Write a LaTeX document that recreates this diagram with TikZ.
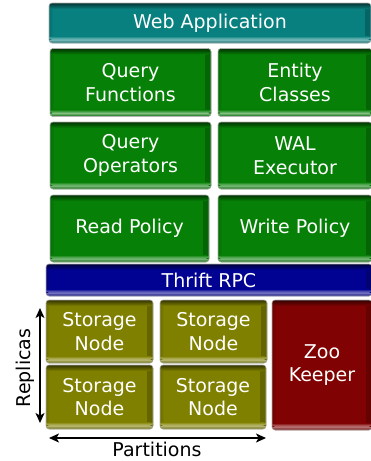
\documentclass[tikz,border=0pt]{standalone}
\usepackage{fontspec}
\setmainfont{DejaVu Sans}
\usetikzlibrary{arrows.meta}

\definecolor{cteal}{RGB}{8,128,128}
\definecolor{cgreen}{RGB}{6,128,6}
\definecolor{cblue}{RGB}{2,2,146}
\definecolor{colive}{RGB}{128,128,0}
\definecolor{cred}{RGB}{128,2,2}

\tikzset{
  block/.style={
    draw=black!30, line width=0.6pt, rounded corners=3pt,
    fill=#1, inner sep=0pt, outer sep=0pt, align=center,
    text=white, font=\fontsize{19}{23.5}\selectfont,
    path picture={
      % soft dark right edge
      \shade[left color=#1, right color=#1!78!black]
        ([xshift=-6pt]path picture bounding box.north east)
        rectangle (path picture bounding box.south east);
      % soft dark left edge
      \shade[left color=#1!85!black, right color=#1]
        (path picture bounding box.north west)
        rectangle ([xshift=4pt]path picture bounding box.south west);
      % dark top edge
      \shade[top color=#1!40!black, bottom color=#1]
        (path picture bounding box.north west)
        rectangle ([yshift=-6pt]path picture bounding box.north east);
      % light band near the bottom
      \shade[top color=#1, bottom color=#1!50!white]
        ([yshift=7pt]path picture bounding box.south west)
        rectangle ([yshift=3.5pt]path picture bounding box.south east);
      \shade[top color=#1!50!white, bottom color=#1!80!black]
        ([yshift=3.5pt]path picture bounding box.south west)
        rectangle (path picture bounding box.south east);
    }},
  axisarrow/.style={{Stealth[length=10pt,width=9pt,inset=2.5pt]}-{Stealth[length=10pt,width=9pt,inset=2.5pt]}, line width=1.2pt},
  axislabel/.style={font=\fontsize{19}{23.5}\selectfont, text=black, inner sep=0pt}
}

\begin{document}
\begin{tikzpicture}[x=1pt, y=-1pt]
  \useasboundingbox (0,0) rectangle (371,461);

  % application layer
  \node[block=cteal, minimum width=322pt, minimum height=40pt] (web) at (210,23) {Web Application};

  \node[block=cgreen, minimum width=161pt, minimum height=68pt] (qf) at (130.5,82.5) {Query\\Functions};
  \node[block=cgreen, minimum width=154pt, minimum height=68pt] (ec) at (295,82.5) {Entity\\Classes};

  \node[block=cgreen, minimum width=161pt, minimum height=67pt] (qo) at (130.5,155.5) {Query\\Operators};
  \node[block=cgreen, minimum width=154pt, minimum height=67pt] (wal) at (295,155.5) {WAL\\Executor};

  \node[block=cgreen, minimum width=159pt, minimum height=67pt] (rp) at (129.5,228.5) {Read Policy};
  \node[block=cgreen, minimum width=154pt, minimum height=67pt] (wp) at (295,228.5) {Write Policy};

  % transport
  \node[block=cblue, minimum width=326pt, minimum height=32pt] (rpc) at (209,280) {Thrift RPC};

  % storage layer
  \node[block=colive, minimum width=107pt, minimum height=63pt] (s11) at (99.5,331.5) {Storage\\Node};
  \node[block=colive, minimum width=107pt, minimum height=63pt] (s12) at (213.5,331.5) {Storage\\Node};
  \node[block=colive, minimum width=107pt, minimum height=64pt] (s21) at (99.5,397) {Storage\\Node};
  \node[block=colive, minimum width=106pt, minimum height=64pt] (s22) at (213,397) {Storage\\Node};

  \node[block=cred, minimum width=100pt, minimum height=130pt] (zk) at (322,365) {Zoo\\Keeper};

  % replica / partition axes
  \coordinate (reptop) at (40,308);
  \coordinate (repbot) at (40,423);
  \draw[axisarrow] (reptop) -- (repbot);
  \node[axislabel, rotate=90] (replbl) at (25,368) {Replicas};

  \coordinate (parleft) at (49,438);
  \coordinate (parright) at (266,438);
  \draw[axisarrow] (parleft) -- (parright);
  \node[axislabel] (parlbl) at (157,449.5) {Partitions};
\end{tikzpicture}
\end{document}
